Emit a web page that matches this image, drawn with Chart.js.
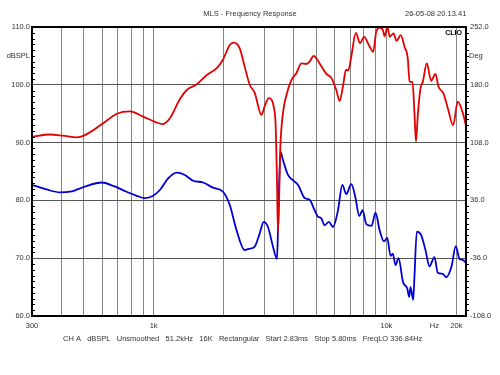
<!DOCTYPE html>
<html>
<head>
<meta charset="utf-8">
<script src="https://cdn.jsdelivr.net/npm/chart.js@4/dist/chart.umd.min.js"></script>
<style>
  html, body { margin: 0; padding: 0; background: #fff; }
</style>
</head>
<body>
<canvas id="myChart" width="500" height="375"></canvas>
<script>
// upper trace (red)
const redFreq = [300, 358, 407, 468, 506, 600, 695, 790, 900, 1012, 1095, 1174, 1295, 1388, 1532, 1692, 1867, 1982,
  2124, 2209, 2344, 2463, 2588, 2719, 2905, 3001, 3122, 3216, 3281, 3346, 3389, 3423, 3504, 3595, 3720, 3906,
  4105, 4313, 4531, 4681, 4870, 5003, 5170, 5521, 5801, 6095, 6300, 6507, 6714, 6862, 7070, 7397, 7710, 8025,
  8431, 8786, 9050, 9350, 9661, 9824, 10099, 10351, 10737, 11060, 11535, 11970, 12370, 12580, 12956, 13210,
  13413, 13654, 14021, 14345, 14923, 15583, 16262, 16749, 17600, 18365, 19370, 20275, 21295, 22000];
const redDb = [91.0, 91.4, 91.2, 90.9, 91.3, 93.2, 95.0, 95.4, 94.5, 93.6, 93.2, 94.2, 97.5, 99.1, 100.1, 101.7, 102.9, 104.3,
  106.9, 107.3, 106.3, 103.1, 100.0, 98.6, 94.8, 96.3, 97.7, 97.4, 96.2, 92.8, 83.5, 74.4, 89.3, 95.1, 98.2, 100.8,
  102.0, 103.7, 103.6, 104.0, 105.0, 104.6, 103.7, 101.9, 101.2, 99.1, 97.2, 99.7, 102.6, 102.5, 104.9, 109.0, 107.2, 108.3,
  106.8, 105.7, 109.2, 109.9, 109.5, 108.4, 110.0, 108.3, 108.9, 107.6, 108.6, 106.6, 104.5, 100.5, 100.5, 95.1,
  90.2, 94.8, 99.4, 100.5, 103.7, 100.7, 101.9, 99.7, 98.5, 96.0, 93.0, 97.1, 95.2, 92.9];

// lower trace (blue)
const blueFreq = [300, 346, 396, 438, 506, 598, 670, 765, 845, 917, 995, 1063, 1154, 1254, 1361, 1477, 1631, 1800, 1987,
  2124, 2269, 2463, 2562, 2719, 2856, 2972, 3100, 3258, 3389, 3423, 3504, 3595, 3779, 3970, 4171, 4456, 4681,
  4918, 5082, 5256, 5430, 5666, 5895, 6193, 6468, 6729, 7070, 7340, 7651, 7906, 8200, 8640, 8987, 9350, 9775,
  10090, 10430, 10664, 10952, 11283, 11793, 12293, 12540, 12703, 13047, 13210, 13520, 14118, 14732, 15330,
  16100, 16634, 17476, 18076, 19050, 19876, 20620, 21295, 22000];
const blueDb = [82.7, 81.9, 81.4, 81.5, 82.4, 83.1, 82.5, 81.5, 80.8, 80.4, 80.8, 81.8, 83.8, 84.8, 84.4, 83.4, 83.1, 82.2, 81.5,
  79.2, 74.9, 71.4, 71.6, 72.0, 74.3, 76.3, 75.4, 72.0, 69.9, 74.9, 88.4, 87.0, 84.4, 83.5, 82.7, 80.4, 80.1,
  78.3, 77.2, 76.9, 75.7, 76.3, 75.4, 78.2, 82.7, 81.1, 82.8, 80.8, 77.3, 78.3, 75.9, 75.6, 77.9, 74.9, 72.9,
  73.5, 70.4, 70.8, 68.8, 70.0, 65.9, 64.8, 63.3, 65.0, 62.8, 66.8, 74.6, 74.0, 71.4, 68.6,
  70.2, 67.5, 67.3, 66.7, 68.5, 72.1, 69.9, 69.7, 69.2];

// x grid / tick positions and the few that get a label
const xTicks = [300, 400, 500, 600, 700, 800, 900, 1000, 2000, 3000, 4000, 5000, 6000, 7000, 8000, 9000, 10000, 16100, 20000];
const xLabels = { 300: '300', 1000: '1k', 10000: '10k', 16100: 'Hz', 20000: '20k' };
const hzTick = 16100;

const caption = 'CH A   dBSPL   Unsmoothed   51.2kHz   16K   Rectangular   Start 2.83ms   Stop 5.80ms   FreqLO 336.84Hz';

const txtFont = '7.5px "Liberation Sans", Arial, sans-serif';
const txtColor = '#333';

function pts(xs, ys) {
  return xs.map((x, i) => ({ x: x, y: ys[i] }));
}

const decor = {
  id: 'decor',
  afterDatasetsDraw(chart) {
    const { ctx, chartArea: a } = chart;
    const y = chart.scales.y;
    const y2 = chart.scales.y2;
    ctx.save();
    // minor ticks
    ctx.strokeStyle = '#000';
    ctx.lineWidth = 1;
    ctx.beginPath();
    for (let v = 61; v < 110; v++) {
      if (v % 10 === 0) continue;
      const py = Math.round(y.getPixelForValue(v)) + 0.5;
      ctx.moveTo(a.left, py); ctx.lineTo(a.left + 3, py);
      ctx.moveTo(a.right, py); ctx.lineTo(a.right + 3, py);
    }
    ctx.stroke();
    // frame
    ctx.lineWidth = 2;
    ctx.strokeRect(a.left, a.top, a.right - a.left, a.bottom - a.top);

    ctx.font = txtFont;
    ctx.fillStyle = txtColor;
    ctx.textBaseline = 'middle';
    ctx.textAlign = 'center';
    ctx.fillText('MLS - Frequency Response', 250, 14);
    ctx.textAlign = 'left';
    ctx.fillText('26-05-08 20.13.41', 405, 14);
    ctx.fillText(caption, 63, 339);
    ctx.textAlign = 'right';
    ctx.fillText('dBSPL', a.left - 2, y.getPixelForValue(105));
    ctx.textAlign = 'left';
    ctx.fillText('Deg', a.right + 3, y2.getPixelForValue(216));

    ctx.font = 'bold 7px "Liberation Sans", Arial, sans-serif';
    ctx.fillStyle = '#000';
    ctx.textAlign = 'right';
    ctx.fillText('CLIO', a.right - 4, a.top + 6);
    ctx.restore();
  }
};

new Chart(document.getElementById('myChart'), {
  type: 'line',
  data: {
    datasets: [
      {
        label: 'red',
        data: pts(redFreq, redDb),
        borderColor: 'rgb(226,0,0)',
        borderWidth: 1.8,
        pointRadius: 0,
        cubicInterpolationMode: 'monotone',
        yAxisID: 'y'
      },
      {
        label: 'blue',
        data: pts(blueFreq, blueDb),
        borderColor: 'rgb(0,0,210)',
        borderWidth: 1.8,
        pointRadius: 0,
        cubicInterpolationMode: 'monotone',
        yAxisID: 'y'
      }
    ]
  },
  options: {
    responsive: false,
    animation: false,
    layout: { padding: { top: 27, left: 0, right: 0, bottom: 0 } },
    plugins: {
      legend: { display: false },
      tooltip: { enabled: false },
      title: { display: false }
    },
    scales: {
      x: {
        type: 'logarithmic',
        min: 300,
        max: 22000,
        afterBuildTicks: (s) => { s.ticks = xTicks.map(v => ({ value: v })); },
        afterFit: (s) => { s.height = 59; },
        border: { display: false },
        grid: {
          drawTicks: false,
          lineWidth: 1,
          color: (c) => (c.tick && c.tick.value === hzTick) ? 'rgba(0,0,0,0)' : '#858585'
        },
        ticks: {
          autoSkip: false,
          maxRotation: 0,
          padding: 5,
          color: txtColor,
          font: { family: '"Liberation Sans", Arial, sans-serif', size: 7.5 },
          callback: (v) => xLabels[v] || ''
        }
      },
      y: {
        position: 'left',
        min: 60,
        max: 110,
        afterFit: (s) => { s.width = 32; },
        border: { display: false },
        grid: { drawTicks: false, color: '#555', lineWidth: 1 },
        ticks: {
          stepSize: 10,
          padding: 2,
          color: txtColor,
          font: { family: '"Liberation Sans", Arial, sans-serif', size: 7.5 },
          callback: (v) => v.toFixed(1)
        }
      },
      y2: {
        position: 'right',
        min: -108,
        max: 252,
        afterFit: (s) => { s.width = 34; },
        border: { display: false },
        grid: { drawOnChartArea: false, drawTicks: false },
        ticks: {
          stepSize: 72,
          padding: 4,
          color: txtColor,
          font: { family: '"Liberation Sans", Arial, sans-serif', size: 7.5 },
          callback: (v) => v.toFixed(1)
        }
      }
    }
  },
  plugins: [decor]
});
</script>
</body>
</html>
